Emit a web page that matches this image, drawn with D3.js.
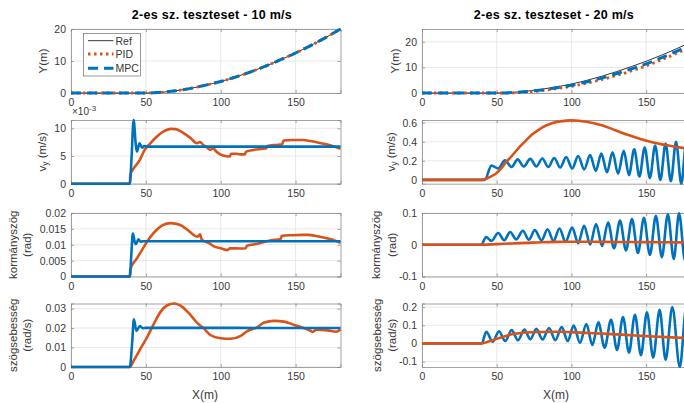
<!DOCTYPE html>
<html>
<head>
<meta charset="utf-8">
<script src="https://cdn.jsdelivr.net/npm/d3@7"></script>
<style>
  body { margin: 0; background: #fff; }
  svg { display: block; font-family: "Liberation Sans", Arial, sans-serif; }
</style>
</head>
<body>
<div id="chart"></div>
<script>
// ---- data ----
const xTicks = [0, 50, 100, 150];
const titles = ["2-es sz. teszteset - 10 m/s", "2-es sz. teszteset - 20 m/s"];
const legendLabels = ["Ref", "PID", "MPC"];

// Y(m), 10 m/s
const y10Ref = [[0,0],[50,0],[55,0.05],[60,0.2],[70,0.7],[80,1.45],[90,2.45],[100,3.6],[110,5.0],[120,6.6],[130,8.4],[140,10.4],[150,12.5],[160,14.8],[170,17.3],[180,20]];
const y10Pid = [[0,0],[50,0],[55,0.05],[60,0.2],[70,0.7],[80,1.45],[90,2.45],[100,3.6],[110,5.0],[120,6.6],[130,8.4],[140,10.4],[150,12.5],[160,14.8],[170,17.3],[180,20]];
const y10Mpc = [[0,0],[50,0],[55,0.05],[60,0.2],[70,0.7],[80,1.45],[90,2.45],[100,3.6],[110,5.0],[120,6.6],[130,8.4],[140,10.4],[150,12.5],[160,14.8],[170,17.3],[180,20]];

// Y(m), 20 m/s
const y20Ref = [[0,0],[50,0],[55,0.05],[60,0.2],[70,0.7],[80,1.45],[90,2.4],[100,3.5],[110,4.9],[120,6.5],[130,8.3],[140,10.3],[150,12.4],[160,14.7],[170,17.2],[180,19.9]];
const y20Pid = [[0,0],[55,0],[60,0.05],[70,0.35],[80,0.9],[90,1.7],[100,2.6],[110,3.8],[120,5.2],[130,6.8],[140,8.6],[150,10.6],[160,12.9],[170,15.4],[180,18.1]];
const y20Mpc = [[0,0],[52,0],[60,0.15],[70,0.55],[80,1.2],[90,2.05],[100,3.05],[110,4.3],[120,5.8],[130,7.5],[140,9.4],[150,11.4],[160,13.7],[170,16.2],[180,18.9]];

// v_y (x1e-3 m/s), 10 m/s
const vy10Pid = [[0,0],[39.3,0],[39.6,1.6],[42,2.8],[46,4.3],[49,6.0],[53,7.3],[56.5,8.3],[60,9.1],[63,9.6],[66.5,9.9],[70,9.85],[73,9.5],[76.5,8.9],[80,8.2],[84,7.3],[86.2,7.5],[88.4,7.0],[91,6.5],[93,6.1],[95,6.4],[97,5.8],[99.6,5.3],[103,5.0],[106,4.9],[107,5.4],[110,5.4],[113,5.3],[116,5.3],[117,5.8],[121.8,6.1],[128,6.3],[130.5,6.4],[131,6.8],[137,7.0],[141,7.1],[142,7.8],[148,7.9],[155,7.9],[160,7.7],[164,7.5],[170.7,7.1],[177,6.6],[180,6.3]];
const vy10Mpc = [[0,0],[39.3,0],[40.5,5],[41.8,11.5],[43.3,7],[44,5.8],[45.8,7.3],[47.5,6.5],[49,6.8],[51,6.7],[180,6.7]];

// v_y (m/s), 20 m/s
const vy20Pid = [[0,0],[40,0],[43,0.012],[46,0.035],[49.8,0.07],[53,0.12],[56.4,0.19],[60,0.25],[65.3,0.345],[70,0.42],[74,0.48],[78,0.525],[83,0.57],[88,0.6],[92,0.612],[99.8,0.624],[105,0.62],[110,0.61],[115,0.595],[121,0.57],[127,0.535],[132,0.505],[137,0.475],[143,0.445],[148,0.42],[154,0.395],[160,0.375],[165,0.36],[170,0.345],[175,0.335],[180,0.325]];
const vy20Mpc = [[0,0],[42,0],[46.5,0.15],[51,0.12],[55.5,0.205],[60,0.135],[64,0.215],[68,0.14],[72.5,0.22],[76.5,0.14],[80.5,0.225],[84.5,0.135],[88.5,0.23],[92.5,0.13],[96.5,0.24],[100.5,0.12],[104.5,0.25],[108.5,0.11],[112.5,0.26],[116.3,0.095],[120,0.275],[123.8,0.08],[127.5,0.29],[131.2,0.065],[135,0.305],[138.5,0.05],[142,0.32],[145.5,0.035],[149,0.34],[152.5,0.02],[156,0.36],[159.5,0.0],[163,0.38],[166.5,-0.015],[170,0.4],[173.5,-0.04],[177,0.42],[180,0.0]];

// kormányszög (rad), 10 m/s
const d10Pid = [[0,0],[39.3,0],[39.6,0.0022],[44,0.0057],[47.5,0.0084],[50.9,0.011],[55.4,0.0138],[61,0.0161],[66.5,0.0168],[73,0.0162],[78.8,0.0143],[84.4,0.0125],[86.2,0.0133],[87.2,0.0117],[92.2,0.0105],[95.5,0.0095],[100,0.0089],[104.5,0.0083],[106.2,0.0089],[113.4,0.0088],[116.7,0.0089],[117.5,0.0097],[124.6,0.0103],[130,0.011],[133.5,0.0114],[140,0.0118],[140.8,0.0128],[147,0.013],[155,0.0131],[158,0.0131],[164.7,0.0127],[173.6,0.0117],[180,0.0106]];
const d10Mpc = [[0,0],[39.3,0],[40.3,0.007],[41.3,0.0135],[42.8,0.0105],[43.5,0.0102],[45,0.0117],[46.5,0.011],[48,0.0111],[180,0.0111]];

// kormányszög (rad), 20 m/s
const d20Pid = [[0,0],[40,0],[50,0.002],[60,0.004],[70,0.006],[80,0.008],[90,0.009],[100,0.0095],[110,0.0095],[120,0.009],[140,0.0085],[160,0.008],[180,0.0075]];
const d20Mpc = [[0,0],[39.5,0],[43,0.024],[46.5,0.012],[51,0.037],[55,0.014],[59,0.04],[63,0.017],[67.5,0.044],[71.5,0.016],[75.5,0.046],[80,0.014],[84,0.049],[88,0.012],[92,0.051],[96,0.009],[100.5,0.054],[104.5,0.005],[108.5,0.06],[112.5,0.001],[116.5,0.065],[120.5,-0.004],[124.5,0.07],[128.5,-0.011],[132.5,0.076],[136.5,-0.018],[140.5,0.081],[144.5,-0.026],[148.5,0.085],[152.5,-0.032],[156.5,0.091],[160.5,-0.039],[164.5,0.096],[168.5,-0.045],[172,0.099],[176,-0.05],[180,0.1]];

// szögsebesség (rad/s), 10 m/s
const r10Pid = [[0,0],[39.3,0],[42,0.0034],[46.4,0.0094],[50.9,0.0154],[55.4,0.0223],[59.8,0.0283],[64.3,0.0317],[68.8,0.0326],[74.3,0.0309],[79.9,0.0266],[84.4,0.0225],[88.8,0.0197],[93.3,0.0163],[100,0.0148],[106.7,0.0145],[113.4,0.016],[118,0.0185],[124.6,0.0205],[129,0.0228],[135.7,0.0237],[142.4,0.0233],[149,0.0216],[155.8,0.0199],[160,0.0186],[161.5,0.018],[163.6,0.0191],[171.4,0.0188],[177,0.0181],[180,0.0193]];
const r10Mpc = [[0,0],[39.3,0],[40.8,0.012],[42,0.0245],[43.7,0.0185],[46,0.021],[48,0.0199],[50,0.0201],[180,0.02]];

// szögsebesség (rad/s), 20 m/s
const r20Pid = [[0,0],[40,0],[45,0.012],[50,0.025],[55,0.038],[60,0.05],[65,0.056],[70,0.06],[80,0.063],[90,0.064],[100,0.062],[110,0.058],[120,0.054],[130,0.05],[140,0.045],[150,0.04],[160,0.036],[170,0.032],[180,0.03]];
const r20Mpc = [[0,0],[40,0],[43,0.064],[47.3,0.009],[51.5,0.067],[55.7,0.013],[60,0.073],[64.2,0.018],[68.5,0.076],[72.5,0.022],[76.5,0.08],[80.7,0.022],[85,0.085],[89.2,0.018],[93.5,0.09],[97.5,0.013],[101.5,0.098],[105.7,0.004],[110,0.107],[114,-0.009],[118,0.116],[122.2,-0.024],[126.5,0.13],[130.5,-0.036],[134.5,0.145],[138.5,-0.051],[142.5,0.158],[146.5,-0.065],[150.5,0.171],[154.7,-0.078],[159,0.185],[163,-0.09],[167.5,0.2],[172.5,-0.13],[177,0.21],[180,0.0]];

// ---- layout ----
const W = 684, H = 403;
const blue = "#0072BD", orange = "#D95319";
const cols = [{ x0: 71, w: 269.5 }, { x0: 422, w: 269 }];
const rows = [{ top: 29, h: 64 }, { top: 120, h: 63.7 }, { top: 213, h: 63.5 }, { top: 303.5, h: 63.5 }];

const pidDot = { color: orange, width: 2.8, dash: "2.5,3.5" };
const mpcDash = { color: blue, width: 3, dash: "10,6" };
const refLine = { color: "#000", width: 0.8, dash: null };
const solidO = { color: orange, width: 2.6, dash: null };
const solidB = { color: blue, width: 2.6, dash: null };

const panels = [
  { c: 0, r: 0, y: [0, 20], ticks: [0, 10, 20], label: ["Y(m)"], lx: [43],
    series: [[y10Ref, refLine], [y10Pid, pidDot], [y10Mpc, mpcDash]], legend: true },
  { c: 1, r: 0, y: [0, 25], ticks: [0, 10, 20], label: ["Y(m)"], lx: [395],
    series: [[y20Ref, refLine], [y20Pid, pidDot], [y20Mpc, mpcDash]] },
  { c: 0, r: 1, y: [0, 11.5], ticks: [0, 5, 10], label: ["vy"], lx: [42], exponent: true,
    series: [[vy10Pid, solidO], [vy10Mpc, solidB]] },
  { c: 1, r: 1, y: [-0.04, 0.628], ticks: [0, 0.2, 0.4, 0.6], label: ["vy"], lx: [391],
    series: [[vy20Mpc, solidB], [vy20Pid, solidO]] },
  { c: 0, r: 2, y: [0, 0.02], ticks: [0, 0.005, 0.01, 0.015, 0.02], label: ["kormányszög", "(rad)"], lx: [13, 26.5],
    series: [[d10Pid, solidO], [d10Mpc, solidB]] },
  { c: 1, r: 2, y: [-0.1, 0.1], ticks: [-0.1, 0, 0.1], label: ["kormányszög", "(rad)"], lx: [375.5, 391.5],
    series: [[d20Mpc, solidB], [d20Pid, solidO]] },
  { c: 0, r: 3, y: [0, 0.0326], ticks: [0, 0.01, 0.02, 0.03], label: ["szögsebesség", "(rad/s)"], lx: [13, 27],
    series: [[r10Pid, solidO], [r10Mpc, solidB]] },
  { c: 1, r: 3, y: [-0.13, 0.22], ticks: [-0.1, 0, 0.1, 0.2], label: ["szögsebesség", "(rad/s)"], lx: [376.5, 391.5],
    series: [[r20Mpc, solidB], [r20Pid, solidO]] }
];

const svg = d3.select("#chart").append("svg")
  .attr("width", W).attr("height", H);
svg.append("rect").attr("width", W).attr("height", H).attr("fill", "#fff");

const textColor = "#383838";

panels.forEach((p, i) => {
  const col = cols[p.c], row = rows[p.r];
  const x = d3.scaleLinear().domain([0, 180]).range([col.x0, col.x0 + col.w]);
  const y = d3.scaleLinear().domain(p.y).range([row.top + row.h, row.top]);
  const g = svg.append("g");

  // grid
  g.selectAll(".gx").data(xTicks).enter().append("line")
    .attr("x1", d => x(d)).attr("x2", d => x(d))
    .attr("y1", row.top).attr("y2", row.top + row.h)
    .attr("stroke", "#e3e3e3").attr("stroke-width", 0.8);
  g.selectAll(".gy").data(p.ticks).enter().append("line")
    .attr("x1", col.x0).attr("x2", col.x0 + col.w)
    .attr("y1", d => y(d)).attr("y2", d => y(d))
    .attr("stroke", "#e3e3e3").attr("stroke-width", 0.8);

  // axes with inward ticks (box on)
  const axB = d3.axisBottom(x).tickValues(xTicks).tickSize(-3).tickPadding(6).tickFormat(d => d);
  const axL = d3.axisLeft(y).tickValues(p.ticks).tickSize(-3).tickPadding(5).tickFormat(d => d);
  g.append("g").attr("transform", `translate(0,${row.top + row.h})`).call(axB);
  g.append("g").attr("transform", `translate(${col.x0},0)`).call(axL);
  g.append("g").attr("transform", `translate(0,${row.top})`)
    .call(d3.axisTop(x).tickValues(xTicks).tickSize(-3).tickFormat(""));
  g.append("g").attr("transform", `translate(${col.x0 + col.w},0)`)
    .call(d3.axisRight(y).tickValues(p.ticks).tickSize(-3).tickFormat(""));
  g.selectAll(".domain").attr("stroke", "#8c8c8c").attr("stroke-width", 0.8);
  g.selectAll(".tick line").attr("stroke", "#8c8c8c").attr("stroke-width", 0.8);
  g.selectAll(".tick text").attr("fill", textColor).style("font-size", "10.5px")
    .style("font-family", "'Liberation Sans', Arial, sans-serif");

  // data lines
  const clipId = "clip" + i;
  svg.append("clipPath").attr("id", clipId).append("rect")
    .attr("x", col.x0 - 2).attr("y", row.top - 2)
    .attr("width", col.w + 4).attr("height", row.h + 4);
  const line = d3.line().x(d => x(d[0])).y(d => y(d[1])).curve(d3.curveMonotoneX);
  const lg = g.append("g").attr("clip-path", `url(#${clipId})`);
  p.series.forEach(([data, st]) => {
    lg.append("path").datum(data)
      .attr("d", line)
      .attr("fill", "none")
      .attr("stroke", st.color)
      .attr("stroke-width", st.width)
      .attr("stroke-dasharray", st.dash)
      .attr("stroke-linejoin", "round");
  });

  // y label
  const cy = row.top + row.h / 2;
  p.label.forEach((t, k) => {
    const tx = g.append("text")
      .attr("transform", `translate(${p.lx[k]},${cy}) rotate(-90)`)
      .attr("text-anchor", "middle")
      .attr("dominant-baseline", "central")
      .attr("fill", textColor)
      .style("font-size", "11.5px");
    if (t === "vy") {
      tx.append("tspan").text("v");
      tx.append("tspan").attr("dy", 3).style("font-size", "8.5px").text("y");
      tx.append("tspan").attr("dy", -3).text(" (m/s)");
    } else {
      tx.text(t);
    }
  });

  if (p.exponent) {
    const ex = g.append("text").attr("x", col.x0 + 1).attr("y", row.top - 5)
      .attr("fill", textColor).style("font-size", "10px");
    ex.append("tspan").text("×10");
    ex.append("tspan").attr("dy", -4).style("font-size", "8px").text("-3");
  }

  if (p.legend) {
    const lx0 = 83.5, ly0 = 33.5;
    g.append("rect").attr("x", lx0).attr("y", ly0).attr("width", 57).attr("height", 42.5)
      .attr("fill", "#fff").attr("stroke", "#555").attr("stroke-width", 0.6);
    const ys = [40.7, 54, 68.3];
    p.series.forEach(([, st], k) => {
      g.append("line").attr("x1", 88).attr("x2", 113.5).attr("y1", ys[k]).attr("y2", ys[k])
        .attr("stroke", st.color).attr("stroke-width", st.width)
        .attr("stroke-dasharray", st.dash);
      g.append("text").attr("x", 115.5).attr("y", ys[k]).attr("dominant-baseline", "central")
        .attr("fill", textColor).style("font-size", "10.5px").text(legendLabels[k]);
    });
  }
});

// titles and x labels
const titleX = [212, 554];
titles.forEach((t, k) => {
  svg.append("text").attr("x", titleX[k]).attr("y", 18.5).attr("text-anchor", "middle")
    .attr("fill", "#000").style("font-size", "12.5px").style("font-weight", "bold")
    .style("letter-spacing", "0.3px").text(t);
});
const xLabelX = [205, 556];
xLabelX.forEach(xx => {
  svg.append("text").attr("x", xx).attr("y", 399).attr("text-anchor", "middle")
    .attr("fill", textColor).style("font-size", "12px").text("X(m)");
});
</script>
</body>
</html>
